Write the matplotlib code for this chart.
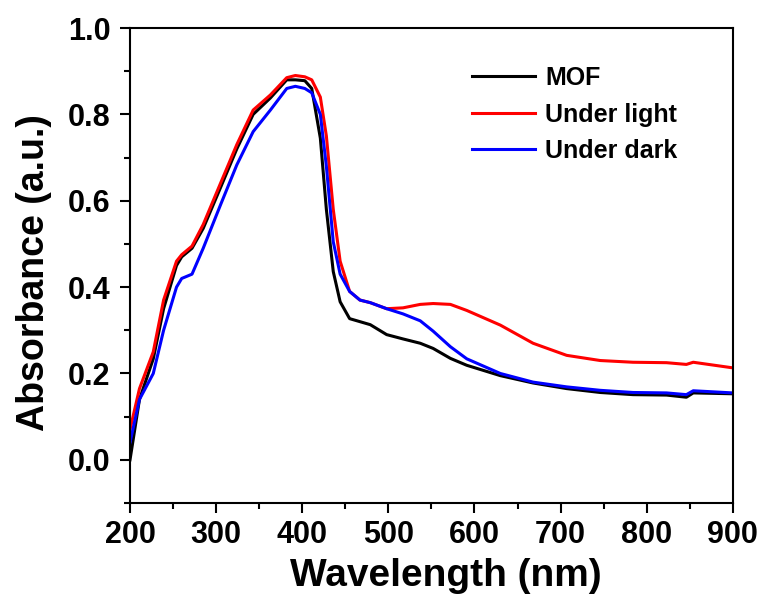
import matplotlib.pyplot as plt
from matplotlib.ticker import MultipleLocator

plt.rcParams['font.family'] = ['Liberation Sans', 'DejaVu Sans']
plt.rcParams['font.weight'] = 'bold'

wavelength = [200, 211, 227, 239, 254, 260, 272, 285, 305, 324, 343, 363, 382, 392,
              403, 411, 421, 428, 436, 444, 455, 467, 479, 498, 517, 537, 552, 572,
              591, 630, 668, 707, 746, 784, 823, 846, 854, 900]
mof = [0.00, 0.14, 0.234, 0.35, 0.45, 0.47, 0.49, 0.536, 0.63, 0.72, 0.80, 0.838, 0.88, 0.88,
       0.878, 0.86, 0.745, 0.58, 0.436, 0.366, 0.327, 0.32, 0.313, 0.29, 0.28, 0.27, 0.258, 0.235,
       0.219, 0.195, 0.178, 0.165, 0.156, 0.151, 0.15, 0.145, 0.155, 0.153]
under_light = [0.07, 0.165, 0.25, 0.37, 0.46, 0.475, 0.495, 0.545, 0.64, 0.73, 0.81, 0.845, 0.885, 0.89,
               0.887, 0.88, 0.84, 0.75, 0.58, 0.46, 0.39, 0.37, 0.364, 0.35, 0.352, 0.36, 0.362, 0.36,
               0.346, 0.312, 0.27, 0.242, 0.23, 0.226, 0.225, 0.221, 0.226, 0.213]
under_dark = [0.04, 0.14, 0.20, 0.30, 0.40, 0.42, 0.43, 0.49, 0.59, 0.683, 0.76, 0.81, 0.86, 0.865,
              0.86, 0.85, 0.80, 0.68, 0.505, 0.43, 0.39, 0.37, 0.364, 0.35, 0.338, 0.322, 0.298, 0.262,
              0.234, 0.20, 0.18, 0.169, 0.161, 0.156, 0.155, 0.151, 0.16, 0.155]

fig = plt.figure(figsize=(7.67, 6.01), dpi=100)
ax = fig.add_axes([0.1695, 0.163, 0.786, 0.7904])

ax.plot(wavelength, mof, color='black', lw=2.2, label='MOF')
ax.plot(wavelength, under_light, color='#ff0000', lw=2.2, label='Under light')
ax.plot(wavelength, under_dark, color='#0000ff', lw=2.2, label='Under dark')

ax.set_xlim(200, 900)
ax.set_ylim(-0.1, 1.0)
ax.xaxis.set_major_locator(MultipleLocator(100))
ax.xaxis.set_minor_locator(MultipleLocator(50))
ax.yaxis.set_major_locator(MultipleLocator(0.2))
ax.yaxis.set_minor_locator(MultipleLocator(0.1))
ax.tick_params(which='major', direction='out', length=7, width=1.5, labelsize=22)
ax.tick_params(axis='x', which='major', pad=5)
ax.tick_params(axis='y', which='major', pad=7)
ax.tick_params(which='minor', direction='out', length=4, width=1.5)
for s in ax.spines.values():
    s.set_linewidth(1.5)

ax.set_xlabel('Wavelength (nm)', fontsize=28, fontweight='bold')
ax.xaxis.set_label_coords(0.524, -0.115)
ax.set_ylabel('Absorbance (a.u.)', fontsize=27, fontweight='bold')
ax.yaxis.set_label_coords(-0.13, 0.485)

ax.legend(loc='upper left', frameon=False, fontsize=18, handlelength=2.5, handletextpad=0.4,
          bbox_to_anchor=(0.568, 0.92), labelspacing=0.5, borderpad=0, borderaxespad=0)

fig.savefig('out.png', dpi=100)
